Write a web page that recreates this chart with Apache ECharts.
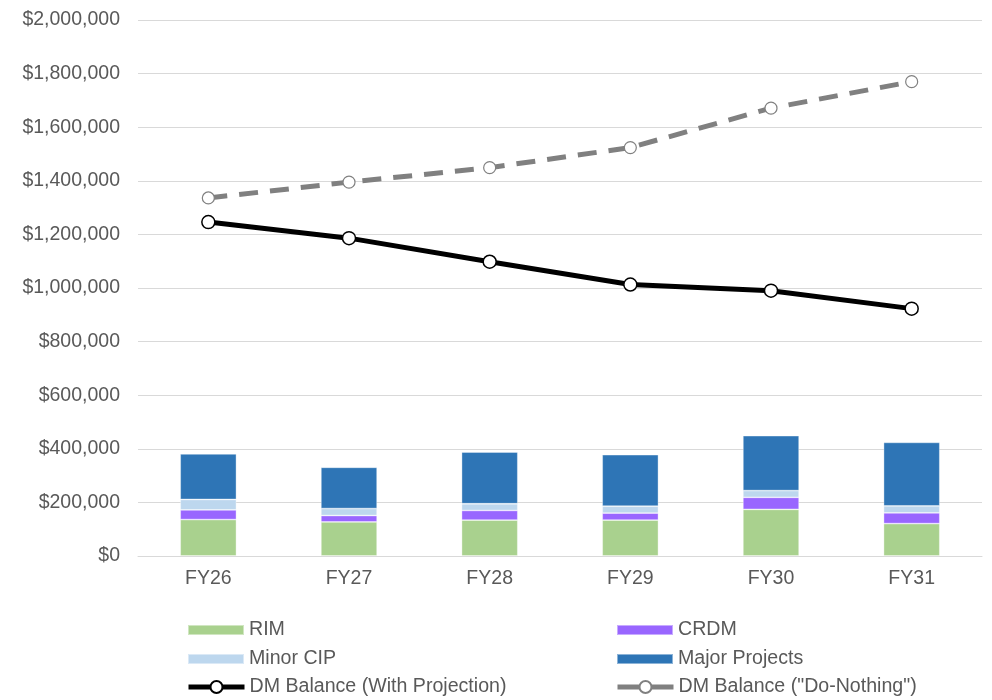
<!DOCTYPE html>
<html>
<head>
<meta charset="utf-8">
<script src="https://cdn.jsdelivr.net/npm/echarts@6/dist/echarts.min.js"></script>
<style>
  html, body { margin: 0; padding: 0; background: #ffffff; }
  #chart { width: 992px; height: 700px; }
</style>
</head>
<body>
<div id="chart"></div>
<script>
// Fiscal years
const categories = ['FY26', 'FY27', 'FY28', 'FY29', 'FY30', 'FY31'];

// Stacked spending components ($)
const rim = [136000, 127000, 134000, 134000, 174000, 121000];
const crdm = [36000, 24000, 36000, 26000, 45000, 40000];
const minorCip = [39000, 26000, 25000, 26000, 25000, 26000];
const majorProjects = [170000, 154000, 193000, 192000, 205000, 237000];

// Deferred maintenance balances ($)
const dmWithProjection = [1246000, 1186000, 1098000, 1013000, 990000, 923000];
const dmDoNothing = [1336000, 1395000, 1449000, 1524000, 1671000, 1770000];

const textColor = '#595959';
const fontFamily = 'Liberation Sans, Arial, sans-serif';

function money(v) {
  return '$' + v.toLocaleString('en-US');
}

const barStyle = (color) => ({
  color: color,
  borderColor: 'rgba(255,255,255,0.45)',
  borderWidth: 0.8
});

function legendAt(name, left, top, extra) {
  return Object.assign({
    data: [name],
    left: left,
    top: top,
    padding: 0,
    icon: 'rect',
    itemWidth: 56,
    itemHeight: 10,
    selectedMode: false,
    textStyle: { color: textColor, fontSize: 19.6, fontFamily: fontFamily }
  }, extra || {});
}

const lineLegend = {
  icon: undefined,
  itemHeight: 15,
  lineStyle: { width: 5, type: 'solid' }
};

const chart = echarts.init(document.getElementById('chart'));
chart.setOption({
  animation: false,
  backgroundColor: '#ffffff',
  grid: { left: 138, right: 10, top: 20, bottom: 144 },
  legend: [
    legendAt('RIM', 187, 620),
    legendAt('CRDM', 616, 620),
    legendAt('Minor CIP', 187, 649),
    legendAt('Major Projects', 616, 649),
    legendAt('DM Balance (With Projection)', 186, 677, lineLegend),
    legendAt('DM Balance ("Do-Nothing")', 615, 677, lineLegend)
  ],
  xAxis: {
    type: 'category',
    data: categories,
    axisLine: { lineStyle: { color: '#d9d9d9', width: 1 } },
    axisTick: { show: false },
    axisLabel: { color: textColor, fontSize: 19.5, fontFamily: fontFamily, margin: 13 }
  },
  yAxis: {
    type: 'value',
    min: 0,
    max: 2000000,
    interval: 200000,
    axisLine: { show: false },
    axisTick: { show: false },
    splitLine: { lineStyle: { color: '#d9d9d9', width: 1 } },
    axisLabel: {
      color: textColor, fontSize: 19.5, fontFamily: fontFamily, margin: 18,
      formatter: money
    }
  },
  series: [
    { name: 'RIM', type: 'bar', stack: 'spend', barWidth: '40%', data: rim, itemStyle: barStyle('#a9d18e') },
    { name: 'CRDM', type: 'bar', stack: 'spend', data: crdm, itemStyle: barStyle('#9966ff') },
    { name: 'Minor CIP', type: 'bar', stack: 'spend', data: minorCip, itemStyle: barStyle('#bdd7ee') },
    { name: 'Major Projects', type: 'bar', stack: 'spend', data: majorProjects, itemStyle: barStyle('#2e75b6') },
    {
      name: 'DM Balance (With Projection)', type: 'line', data: dmWithProjection,
      symbol: 'circle', symbolSize: 13, z: 5,
      lineStyle: { color: '#000000', width: 5 },
      itemStyle: { color: '#ffffff', borderColor: '#000000', borderWidth: 1.5 }
    },
    {
      name: 'DM Balance ("Do-Nothing")', type: 'line', data: dmDoNothing,
      symbol: 'circle', symbolSize: 12, z: 5,
      lineStyle: { color: '#808080', width: 5, type: [19, 12] },
      itemStyle: { color: '#ffffff', borderColor: '#808080', borderWidth: 1.2 }
    }
  ]
});
</script>
</body>
</html>
